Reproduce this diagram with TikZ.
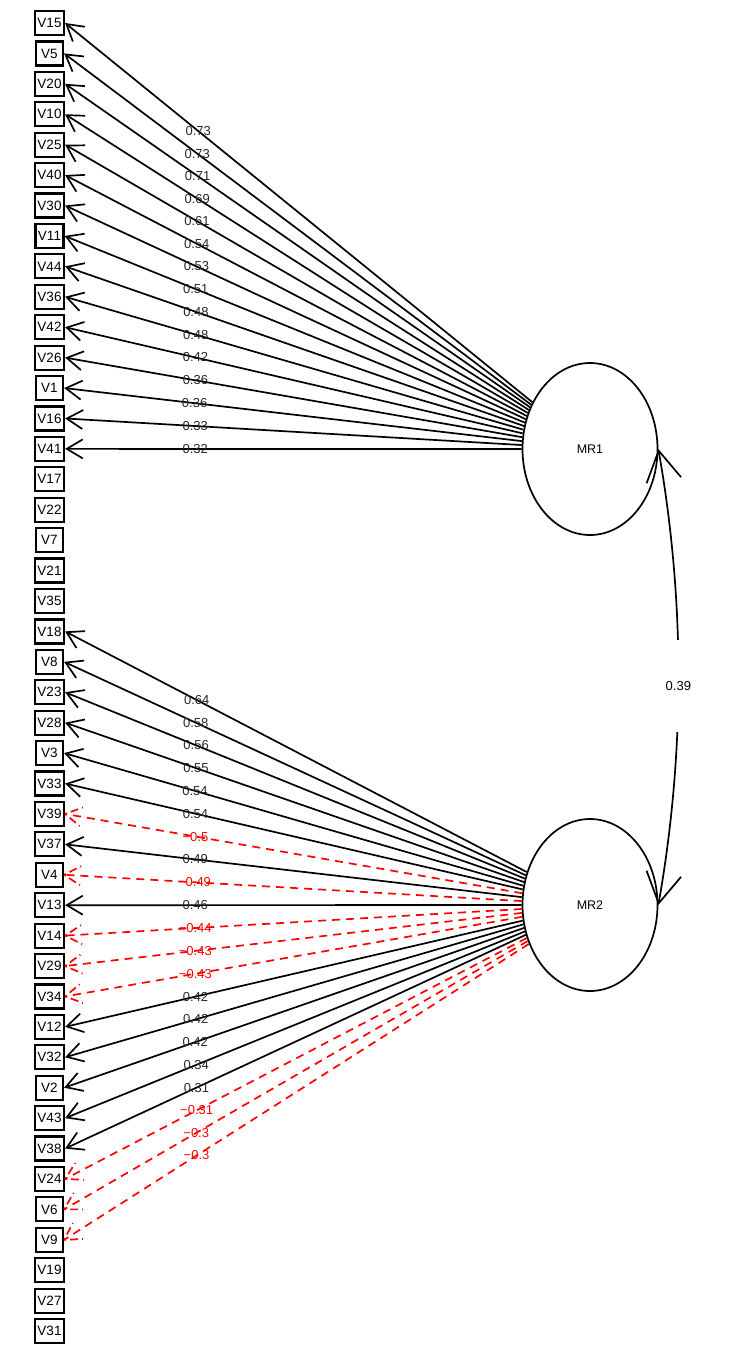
\documentclass[tikz,border=0pt]{standalone}
\usepackage{fontspec}
\setmainfont{Liberation Sans}
\usetikzlibrary{arrows.meta,calc,shapes.geometric}
\begin{document}
\begin{tikzpicture}[x=1pt,y=-1pt,
  var/.style={draw,line width=2.2pt,minimum width=27pt,minimum height=24pt,inner xsep=2.5pt,inner ysep=0pt,font=\fontsize{13.5}{15}\selectfont},
  fac/.style={draw,ellipse,line width=1.7pt,minimum width=135pt,minimum height=172pt,inner sep=0pt,font=\fontsize{12.5}{14}\selectfont},
  load/.style={line width=1.7pt,-{Straight Barb[length=16pt,width=19pt]}},
  neg/.style={line width=1.7pt,red,dash pattern=on 8pt off 6pt},
  barb/.style={line width=1.7pt,red,dash pattern=on 2pt off 4pt on 8pt off 4pt},
  lab/.style={font=\fontsize{13}{14}\selectfont,text=black!85,inner sep=0pt},
  nlab/.style={lab,text=red},
  corr/.style={line width=1.7pt,{Straight Barb[length=30pt,width=35pt]}-{Straight Barb[length=30pt,width=35pt]}},
]
\useasboundingbox (0,0) rectangle (732,1358);
\foreach \v [count=\i from 0] in {V15,V5,V20,V10,V25,V40,V30,V11,V44,V36,V42,V26,V1,V16,V41,V17,V22,V7,V21,V35,V18,V8,V23,V28,V3,V33,V39,V37,V4,V13,V14,V29,V34,V12,V32,V2,V43,V38,V24,V6,V9,V19,V27,V31}
  \node[var] (\v) at (49.5,{23+\i*30.42}) {\v};
\node[fac] (MR1) at (590,449) {MR1};
\node[fac] (MR2) at (590,905) {MR2};
\foreach \v/\l in {V15/0.73,V5/0.73,V20/0.71,V10/0.69,V25/0.61,V40/0.54,V30/0.53,V11/0.51,V44/0.48,V36/0.48,V42/0.42,V26/0.36,V1/0.36,V16/0.33,V41/0.32}
  \draw[load] (MR1) -- (\v.east) node[lab,pos=0.715] {\l};
\foreach \v/\l in {V18/0.64,V8/0.58,V23/0.56,V28/0.55,V3/0.54,V33/0.54,V37/0.49,V13/0.46,V12/0.42,V32/0.42,V2/0.42,V43/0.34,V38/0.31}
  \draw[load] (MR2) -- (\v.east) node[lab,pos=0.715] {\l};
\foreach \v/\l in {V39/−0.5,V4/−0.49,V14/−0.44,V29/−0.43,V34/−0.43,V24/−0.31,V6/−0.3,V9/−0.3}{
  \draw[neg] (MR2) -- (\v.east) node[nlab,pos=0.715] {\l};
  \draw[barb] (\v.east) -- ($(\v.east)!19pt!30:(MR2)$);
  \draw[barb] (\v.east) -- ($(\v.east)!19pt!-30:(MR2)$);
}
\draw[corr] (MR1.east) .. controls ($(MR1.east)+(26.7,152)$) and ($(MR2.east)+(26.7,-152)$) .. (MR2.east)
  node[pos=0.52,fill=white,minimum height=92pt,inner xsep=1pt,font=\fontsize{13}{15}\selectfont] (r) {0.39};
\end{tikzpicture}
\end{document}
